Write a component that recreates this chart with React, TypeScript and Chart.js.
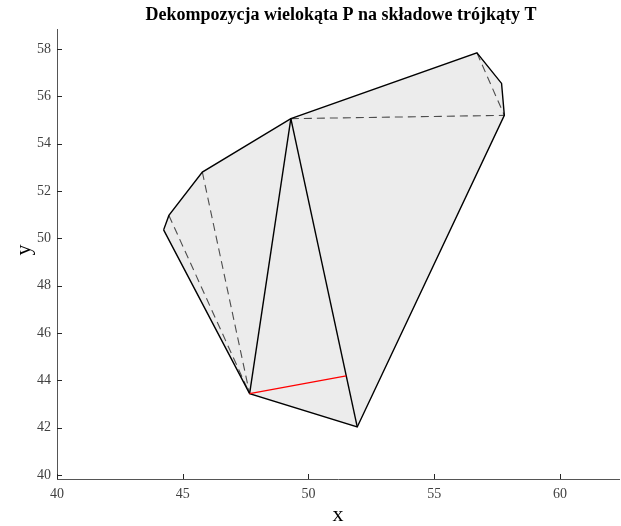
import React, { useEffect, useRef } from "react";
import { Chart, registerables } from "chart.js";

Chart.register(...registerables);

const titleText = "Dekompozycja wielokąta P na składowe trójkąty T";
const xLabel = "x";
const yLabel = "y";

// polygon P vertices (in order)
const polygonX = [44.24, 44.45, 45.78, 49.3, 56.7, 57.68, 57.79, 51.94, 47.66];
const polygonY = [50.36, 50.97, 52.8, 55.06, 57.84, 56.55, 55.2, 42.03, 43.44];

// diagonals (vertex index pairs)
const solidDiagonals = [
  [8, 3],
  [3, 7],
];
const dashedDiagonals = [
  [1, 8],
  [2, 8],
  [3, 6],
  [4, 6],
];

// highlighted red segment
const redX = [47.66, 51.5];
const redY = [43.44, 44.19];

const xTicks = [40, 45, 50, 55, 60];
const yTicks = [40, 42, 44, 46, 48, 50, 52, 54, 56, 58];
const xMin = 40;
const xMax = 62.35;
const yMin = 39.83;
const yMax = 58.85;

const FONT = '"Liberation Serif", "Times New Roman", serif';

export default function App() {
  const ref = useRef<HTMLCanvasElement>(null);

  useEffect(() => {
    document.body.style.margin = "0";
    const canvas = ref.current!;
    const pt = (i: number) => ({ x: polygonX[i], y: polygonY[i] });
    const closed = [...polygonX.map((_, i) => pt(i)), pt(0)];

    const lineDs = (data: any[], color: string, width: number, dash: number[] = []) => ({
      data,
      showLine: true,
      borderColor: color,
      borderWidth: width,
      borderDash: dash,
      pointRadius: 0,
      pointHoverRadius: 0,
      fill: false,
      tension: 0,
    });

    const datasets: any[] = [];
    datasets.push(lineDs(redX.map((x, i) => ({ x, y: redY[i] })), "#ff0000", 1.4));
    datasets.push(lineDs(closed, "#000000", 1.4));
    solidDiagonals.forEach(([a, b]) => datasets.push(lineDs([pt(a), pt(b)], "#000000", 1.4)));
    dashedDiagonals.forEach(([a, b]) => datasets.push(lineDs([pt(a), pt(b)], "#4d4d4d", 1.1, [8, 5])));
    datasets.push({
      data: closed,
      showLine: true,
      borderWidth: 0,
      borderColor: "rgba(0,0,0,0)",
      backgroundColor: "#ececec",
      pointRadius: 0,
      pointHoverRadius: 0,
      fill: "shape",
      tension: 0,
    });

    const decor = {
      id: "decor",
      afterDraw(chart: any) {
        const { ctx, chartArea, scales } = chart;
        const cx = (chartArea.left + chartArea.right) / 2;
        ctx.save();
        ctx.fillStyle = "#000";
        ctx.textAlign = "center";
        ctx.textBaseline = "middle";
        ctx.font = `bold 18px ${FONT}`;
        ctx.fillText(titleText, cx + 3, 15);
        ctx.font = `22px ${FONT}`;
        ctx.fillText(xLabel, cx, 515);
        ctx.save();
        ctx.translate(24, 250);
        ctx.rotate(-Math.PI / 2);
        ctx.fillText(yLabel, 0, 0);
        ctx.restore();
        // inward ticks
        ctx.strokeStyle = "#262626";
        ctx.lineWidth = 1;
        ctx.beginPath();
        xTicks.forEach((v) => {
          const px = Math.round(scales.x.getPixelForValue(v)) + 0.5;
          ctx.moveTo(px, chartArea.bottom);
          ctx.lineTo(px, chartArea.bottom - 5);
        });
        yTicks.forEach((v) => {
          const py = Math.round(scales.y.getPixelForValue(v)) + 0.5;
          ctx.moveTo(chartArea.left, py);
          ctx.lineTo(chartArea.left + 5, py);
        });
        ctx.stroke();
        ctx.restore();
      },
    };

    const chart = new Chart(canvas, {
      type: "scatter",
      data: { datasets },
      options: {
        animation: false,
        responsive: false,
        events: [],
        layout: { padding: { top: 29, right: 2, left: 0, bottom: 0 } },
        plugins: {
          legend: { display: false },
          title: { display: false },
          tooltip: { enabled: false },
        },
        scales: {
          x: {
            type: "linear",
            min: xMin,
            max: xMax,
            afterBuildTicks: (s: any) => {
              s.ticks = xTicks.map((v) => ({ value: v }));
            },
            afterFit: (s: any) => {
              s.height = 47;
            },
            grid: { display: false, drawTicks: false },
            border: { display: true, color: "#555555", width: 1 },
            ticks: {
              padding: 7,
              color: "#404040",
              font: { family: FONT, size: 14 },
              maxRotation: 0,
            },
          },
          y: {
            type: "linear",
            min: yMin,
            max: yMax,
            afterBuildTicks: (s: any) => {
              s.ticks = yTicks.map((v) => ({ value: v }));
            },
            afterFit: (s: any) => {
              s.width = 57;
            },
            grid: { display: false, drawTicks: false },
            border: { display: true, color: "#555555", width: 1 },
            ticks: {
              padding: 6,
              color: "#404040",
              font: { family: FONT, size: 14 },
            },
          },
        },
      },
      plugins: [decor],
    } as any);
    return () => chart.destroy();
  }, []);

  return (
    <div style={{ position: "fixed", left: 0, top: 0, width: 621, height: 526, background: "#fff" }}>
      <canvas ref={ref} width={621} height={526} style={{ width: 621, height: 526 }} />
    </div>
  );
}
